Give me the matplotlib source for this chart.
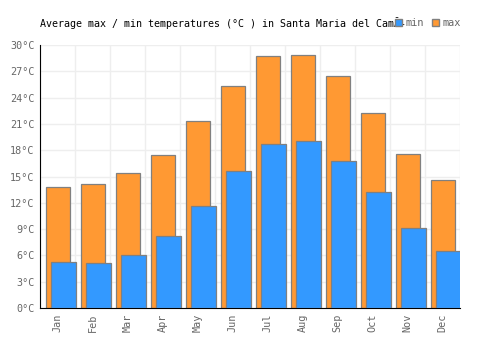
import numpy as np
import matplotlib
matplotlib.use("Agg")
import matplotlib.pyplot as plt
from matplotlib.patches import Patch

# datos
meses = ["Jan", "Feb", "Mar", "Apr", "May", "Jun", "Jul", "Aug", "Sep", "Oct", "Nov", "Dec"]
t_max = [13.8, 14.2, 15.4, 17.5, 21.3, 25.3, 28.8, 28.9, 26.5, 22.3, 17.6, 14.6]
t_min = [5.2, 5.1, 6.0, 8.2, 11.6, 15.6, 18.7, 19.1, 16.8, 13.2, 9.1, 6.5]
y_ticks = [0, 3, 6, 9, 12, 15, 18, 21, 24, 27, 30]

naranja = "#ff9933"
azul = "#3399ff"
borde = "#808080"
gris = "#666666"
mono = "DejaVu Sans Mono"

fig = plt.figure(figsize=(5, 3.5), dpi=100)
ax = fig.add_axes([0.08, 0.12, 0.84, 0.751])

x = np.arange(len(meses))
ax.bar(x + 0.01, t_max, width=0.68, color=naranja, edgecolor=borde, linewidth=0.9, zorder=2)
ax.bar(x + 0.17, t_min, width=0.71, color=azul, edgecolor=borde, linewidth=0.9, zorder=3)

ax.set_xlim(-0.5, len(meses) - 0.5)
ax.set_ylim(0, 30)
ax.set_yticks(y_ticks)
ax.set_yticklabels([f"{v}°C" for v in y_ticks], family=mono, fontsize=7.3, color=gris)
ax.set_xticks(x)
ax.set_xticklabels(meses, rotation=90, family=mono, fontsize=7.3, color=gris)
ax.set_xticks(np.arange(-0.5, len(meses)), minor=True)

ax.grid(axis="y", color="#eeeeee", linewidth=1, zorder=0)
ax.grid(axis="x", which="minor", color="#eeeeee", linewidth=1, zorder=0)
ax.tick_params(axis="both", which="both", length=0, pad=4)
ax.set_axisbelow(True)

for s in ["top", "right"]:
    ax.spines[s].set_visible(False)
ax.spines["left"].set_color("black")
ax.spines["bottom"].set_color("black")

fig.text(0.08, 0.935, "Average max / min temperatures (°C ) in Santa Maria del CamĂ-",
         family=mono, fontsize=7.2, color="black", va="center")

handles = [Patch(facecolor=azul, edgecolor=borde, label="min"),
           Patch(facecolor=naranja, edgecolor=borde, label="max")]
leg = fig.legend(handles=handles, loc="center left", bbox_to_anchor=(0.782, 0.935),
                 ncol=2, frameon=False, handlelength=0.7, handleheight=0.7,
                 handletextpad=0.3, columnspacing=0.8, borderaxespad=0,
                 prop={"family": mono, "size": 7.4})
for t in leg.get_texts():
    t.set_color(gris)

fig.savefig("out.png", dpi=100)
